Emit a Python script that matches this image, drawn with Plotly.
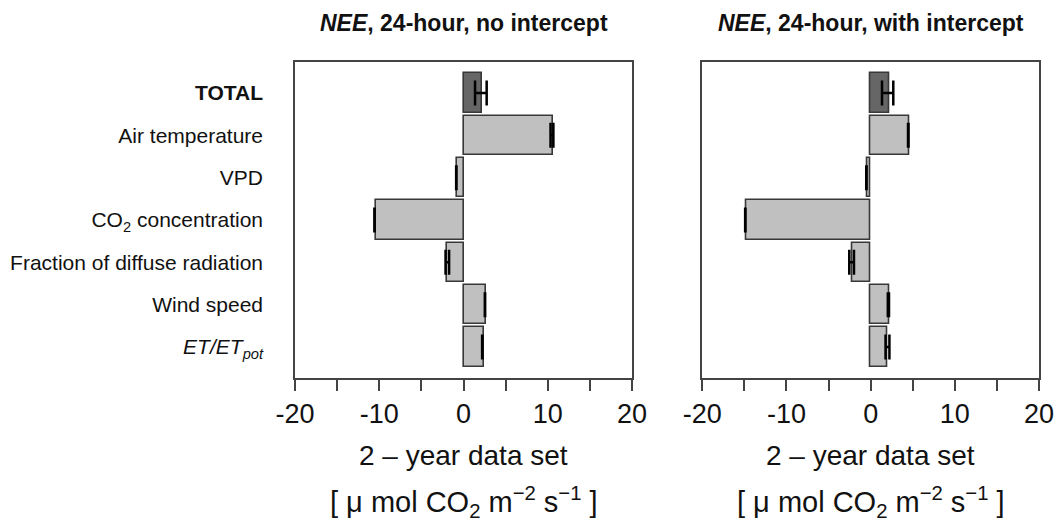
import plotly.graph_objects as go

# ---- data ----
categories = ["<b>TOTAL</b>", "Air temperature", "VPD", "CO<sub>2</sub> concentration",
              "Fraction of diffuse radiation", "Wind speed", "<i>ET/ET<sub>pot</sub></i>"]
positions = [0, 1, 2, 3, 4, 5, 6]

# left panel: NEE, 24-hour, no intercept
left_values = [2.2, 10.6, -0.75, -10.42, -1.92, 2.7, 2.4]
left_err_center = [2.06, 10.5, -0.85, -10.56, -1.92, 2.55, 2.23]
left_err_half = [0.69, 0.17, 0.02, 0.02, 0.21, 0.02, 0.02]

# right panel: NEE, 24-hour, with intercept
right_values = [2.17, 4.59, -0.36, -14.81, -2.18, 2.17, 1.98]
right_err_center = [2.02, 4.47, -0.5, -14.89, -2.26, 2.11, 2.0]
right_err_half = [0.67, 0.03, 0.02, 0.02, 0.28, 0.07, 0.23]

titles = ["<b><i>NEE</i>, 24-hour, no intercept</b>", "<b><i>NEE</i>, 24-hour, with intercept</b>"]
x_tickvals = [-20, -10, 0, 10, 20]
x_ticktext = ["-20", "-10", "0", "10", "20"]
x_minor_tickvals = [-15, -5, 5, 15]
xtitle1 = "2 \u2013 year data set"
xtitle2 = "[ \u03bc mol CO<sub>2</sub> m<sup>\u22122</sup> s<sup>\u22121</sup> ]"

FONT = "Liberation Sans, Arial, sans-serif"
W, H = 1060, 524
fill_colors = ["#666666"] + ["#c0c0c0"] * 6

fig = go.Figure()

panels = [
    (left_values, left_err_center, left_err_half, "x", "y"),
    (right_values, right_err_center, right_err_half, "x2", "y2"),
]
for vals, ec, eh, xa, ya in panels:
    fig.add_trace(go.Bar(
        x=vals, y=positions, orientation="h", width=0.925,
        marker=dict(color=fill_colors, line=dict(color="#383838", width=1.6)),
        xaxis=xa, yaxis=ya, showlegend=False, hoverinfo="x+y",
    ))
    fig.add_trace(go.Scatter(
        x=ec, y=positions, mode="markers",
        marker=dict(size=1, color="rgba(0,0,0,0)"),
        error_x=dict(type="data", array=eh, symmetric=True, color="black",
                     thickness=2.5, width=12.5),
        xaxis=xa, yaxis=ya, showlegend=False, hoverinfo="skip",
    ))

xdoms = [[295 / W, 632 / W], [702.3 / W, 1039 / W]]
ydom = [1 - 378 / H, 1 - 62 / H]

common_x = dict(range=[-20, 20], tickvals=x_tickvals, ticktext=x_ticktext,
                ticks="outside", ticklen=11, tickwidth=1.5, tickcolor="#444444",
                minor=dict(tickvals=x_minor_tickvals, ticks="outside", ticklen=11,
                           tickwidth=1.5, tickcolor="#444444", showgrid=False),
                showline=True, linecolor="#444444", linewidth=1.5, mirror=True,
                showgrid=False, zeroline=False, automargin=False,
                tickfont=dict(family=FONT, size=27, color="#111111"))
common_y = dict(range=[6.73, -0.73], tickvals=positions,
                showline=True, linecolor="#444444", linewidth=1.5, mirror=True,
                showgrid=False, zeroline=False, ticks="", automargin=False,
                tickfont=dict(family=FONT, size=21, color="#111111"))

fig.update_layout(
    width=W, height=H, margin=dict(l=0, r=0, t=0, b=0, autoexpand=False),
    plot_bgcolor="white", paper_bgcolor="white",
    xaxis=dict(domain=xdoms[0], anchor="y", **common_x),
    yaxis=dict(domain=ydom, anchor="x", showticklabels=True, ticktext=categories,
               ticklabelstandoff=26, **common_y),
    xaxis2=dict(domain=xdoms[1], anchor="y2", **common_x),
    yaxis2=dict(domain=ydom, anchor="x2", showticklabels=False, **common_y),
    bargap=0,
)

anns = []
for i, t in enumerate(titles):
    cx = (xdoms[i][0] + xdoms[i][1]) / 2
    anns.append(dict(text=t, x=cx, y=1 - 23 / H, xref="paper", yref="paper",
                     xanchor="center", yanchor="middle", showarrow=False,
                     font=dict(family=FONT, size=23, color="#111111")))
    anns.append(dict(text=xtitle1, x=cx, y=1 - 455 / H, xref="paper", yref="paper",
                     xanchor="center", yanchor="middle", showarrow=False,
                     font=dict(family=FONT, size=28, color="#111111")))
    anns.append(dict(text=xtitle2, x=cx, y=1 - 502 / H, xref="paper", yref="paper",
                     xanchor="center", yanchor="middle", showarrow=False,
                     font=dict(family=FONT, size=29, color="#111111")))
fig.update_layout(annotations=anns)

fig.write_html("out.html", config={"displayModeBar": False},
               post_script="document.body.style.margin='0';")
